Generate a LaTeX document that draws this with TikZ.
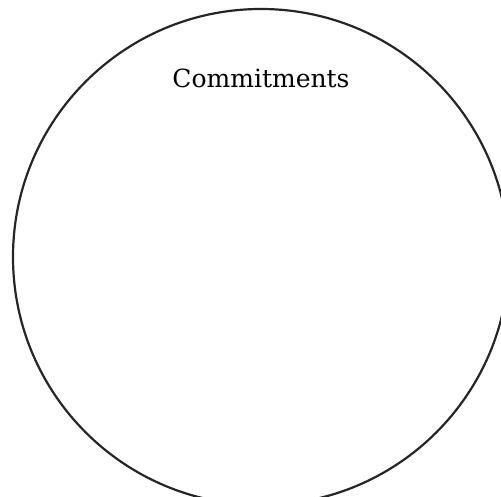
\documentclass[tikz,border=0pt]{standalone}
\usepackage{fontspec}
\newfontfamily\lblfont{DejaVu Serif}
\tikzset{ring/.style={draw=black!85,line width=2.2pt},
lbl/.style={font=\lblfont\fontsize{25}{30}\selectfont,inner sep=0pt}}
\begin{document}
\begin{tikzpicture}[x=1pt,y=1pt]
\useasboundingbox (0,0) rectangle (501,497);
\begin{scope}
\clip (0,0) rectangle (501,497);
\node[ring,circle,minimum size=496pt,inner sep=0pt] (c) at (261,240) {};
\end{scope}
\node[lbl] (t) at (261,419) {Commitments};
\end{tikzpicture}
\end{document}
